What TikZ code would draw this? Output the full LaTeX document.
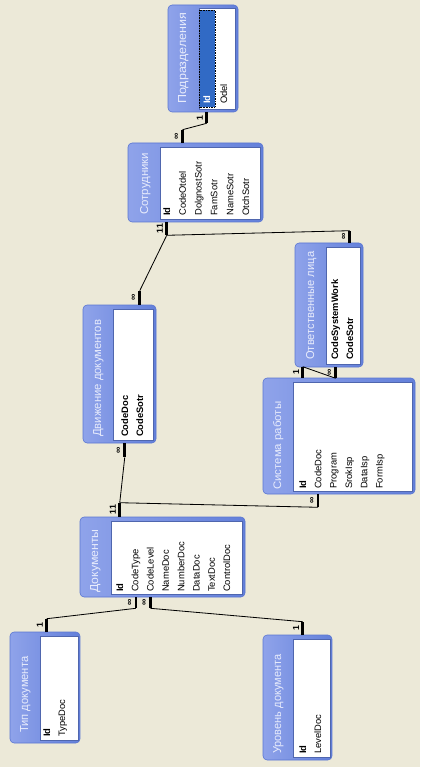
\documentclass[tikz,border=0pt]{standalone}
\usepackage{graphicx}
\usepackage{fontspec}
\setmainfont{Liberation Sans}
\usetikzlibrary{fit}

\definecolor{desk}{HTML}{ECE9D8}
\definecolor{barlight}{HTML}{8FA3EA}
\definecolor{bardark}{HTML}{6380DA}
\definecolor{barline}{HTML}{5A76D2}
\definecolor{captxt}{HTML}{E8ECFC}
\definecolor{selblue}{HTML}{316AC5}

\newcommand{\tblname}[2]{\resizebox{#1}{0.24cm}{\fontsize{9}{10}\selectfont #2}}

\begin{document}
\begin{tikzpicture}[x=0.03cm, y=-0.03cm, every node/.style={inner sep=0pt},
	tbl/.style={fit={#1}, draw=barline, line width=0.5pt, left color=barlight, right color=bardark, rounded corners=3.5pt},
	lst/.style={fit={#1}, draw=bardark!80!black, line width=0.4pt, fill=white},
	ttl/.style={rotate=90, anchor=mid west, text=captxt},
	fld/.style={rotate=90, anchor=mid west, font=\fontsize{8}{9}\selectfont},
	stub/.style={line width=2.4pt},
	rel/.style={line width=0.7pt},
	card/.style={rotate=90, anchor=south, inner sep=2pt, font=\bfseries\fontsize{7.5}{8}\selectfont}]
	\fill[desk] (0,0) rectangle (420,767);

	% Подразделения
	\node[tbl={(168,5) (238,112)}] (podr) {};
	\node[lst={(199,8) (235,109)}] (podr-l) {};
	\fill[selblue] (199.5,10) rectangle (215,107);
	\draw[densely dotted, line width=0.4pt] (199.5,10) rectangle (215,107);
	\node[ttl] (podr-t) at (183,104) {\tblname{2.73cm}{Подразделения}};
	\node[fld, text=white] (podr-1) at (207,104) {\bfseries Id};
	\node[fld] (podr-2) at (224,104) {Odel};

	% Сотрудники
	\node[tbl={(128,143) (263,222)}] (sotr) {};
	\node[lst={(160,147) (260,219)}] (sotr-l) {};
	\node[ttl] (sotr-t) at (145,215) {\tblname{1.86cm}{Сотрудники}};
	\foreach \f [count=\i] in {{\bfseries Id},CodeOtdel,DolgnostSotr,FamSotr,NameSotr,OtchSotr}
		\node[fld] (sotr-\i) at ({167+15.8*(\i-1)},216) {\f};

	% Ответственные лица
	\node[tbl={(295,243) (363,367)}] (otv) {};
	\node[lst={(326,247) (360,364)}] (otv-l) {};
	\node[ttl] (otv-t) at (311,360) {\tblname{3.24cm}{Ответственные лица}};
	\foreach \f [count=\i] in {CodeSystemWork,CodeSotr}
		\node[fld, font=\bfseries\fontsize{8}{9}\selectfont] (otv-\i) at ({335+15*(\i-1)},360) {\f};

	% Движение документов
	\node[tbl={(83,305) (156,443)}] (dvi) {};
	\node[lst={(113,309) (153,440)}] (dvi-l) {};
	\node[ttl] (dvi-t) at (98,437) {\tblname{3.51cm}{Движение документов}};
	\foreach \f [count=\i] in {CodeDoc,CodeSotr}
		\node[fld, font=\bfseries\fontsize{8}{9}\selectfont] (dvi-\i) at ({125+15*(\i-1)},437) {\f};

	% Система работы
	\node[tbl={(263,378) (415,494)}] (sys) {};
	\node[lst={(293,382) (412,491)}] (sys-l) {};
	\node[ttl] (sys-t) at (278,490) {\tblname{2.64cm}{Система работы}};
	\foreach \f [count=\i] in {{\bfseries Id},CodeDoc,Program,SrokIsp,DataIsp,FormIsp}
		\node[fld] (sys-\i) at ({303+15.3*(\i-1)},489) {\f};

	% Документы
	\node[tbl={(80,517) (245,597)}] (doc) {};
	\node[lst={(111,521) (242,594)}] (doc-l) {};
	\node[ttl] (doc-t) at (95,593) {\tblname{1.9cm}{Документы}};
	\foreach \f [count=\i] in {{\bfseries Id},CodeType,CodeLevel,NameDoc,NumberDoc,DataDoc,TextDoc,ControlDoc}
		\node[fld] (doc-\i) at ({120+15.3*(\i-1)},592) {\f};

	% Тип документа
	\node[tbl={(10,632) (80,743)}] (tip) {};
	\node[lst={(40,636) (78,740)}] (tip-l) {};
	\node[ttl] (tip-t) at (25,733) {\tblname{2.28cm}{Тип документа}};
	\foreach \f [count=\i] in {{\bfseries Id},TypeDoc}
		\node[fld] (tip-\i) at ({47+15*(\i-1)},737) {\f};

	% Уровень документа
	\node[tbl={(263,635) (332,760)}] (urv) {};
	\node[lst={(293,639) (330,757)}] (urv-l) {};
	\node[ttl] (urv-t) at (278,754) {\tblname{2.97cm}{Уровень документа}};
	\foreach \f [count=\i] in {{\bfseries Id},LevelDoc}
		\node[fld] (urv-\i) at ({303+15*(\i-1)},754) {\f};

	% связи
	\draw[stub] (podr-1 |- podr.south) -- node[card] (k1a) {1} ++(0,11) coordinate (e1a);
	\draw[stub] (sotr-2 |- sotr.north) -- node[card] (k1b) {∞} ++(0,-13) coordinate (e1b);
	\draw[rel] (e1a) -- (e1b);

	\draw[stub] (sotr-1 |- sotr.south) -- node[card, pos=0.3] (k2a) {1} node[card, pos=0.7] (k3a) {1} ++(0,13) coordinate (e2a);
	\draw[stub] (otv-2 |- otv.north) -- node[card] (k2b) {∞} ++(0,-12) coordinate (e2b);
	\draw[rel] (e2a) -- (e2b);
	\draw[stub] (dvi-2 |- dvi.north) -- node[card] (k3b) {∞} ++(0,-14) coordinate (e3b);
	\draw[rel] (e2a) -- (e3b);

	\draw[stub] (doc-1 |- doc.north) -- node[card, pos=0.3] (k4a) {1} node[card, pos=0.7] (k5a) {1} ++(0,-14) coordinate (e4a);
	\draw[stub] (dvi-1 |- dvi.south) -- node[card] (k4b) {∞} ++(0,14) coordinate (e4b);
	\draw[rel] (e4a) -- (e4b);
	\draw[stub] (sys-2 |- sys.south) -- node[card] (k5b) {∞} ++(0,13) coordinate (e5b);
	\draw[rel] (e4a) -- (e5b);

	\draw[stub] (sys-1 |- sys.north) -- node[card] (k6a) {1} ++(0,-11) coordinate (e6a);
	\draw[stub] (otv-1 |- otv.south) -- node[card] (k6b) {∞} ++(0,11) coordinate (e6b);
	\draw[rel] (e6a) -- (e6b);

	\draw[stub] (tip-1 |- tip.north) -- node[card] (k7a) {1} ++(0,-13) coordinate (e7a);
	\draw[stub] (doc-2 |- doc.south) -- node[card] (k7b) {∞} ++(0,11) coordinate (e7b);
	\draw[rel] (e7a) -- (e7b);

	\draw[stub] (urv-1 |- urv.north) -- node[card] (k8a) {1} ++(0,-13) coordinate (e8a);
	\draw[stub] (doc-3 |- doc.south) -- node[card] (k8b) {∞} ++(0,11) coordinate (e8b);
	\draw[rel] (e8a) -- (e8b);
\end{tikzpicture}
\end{document}
